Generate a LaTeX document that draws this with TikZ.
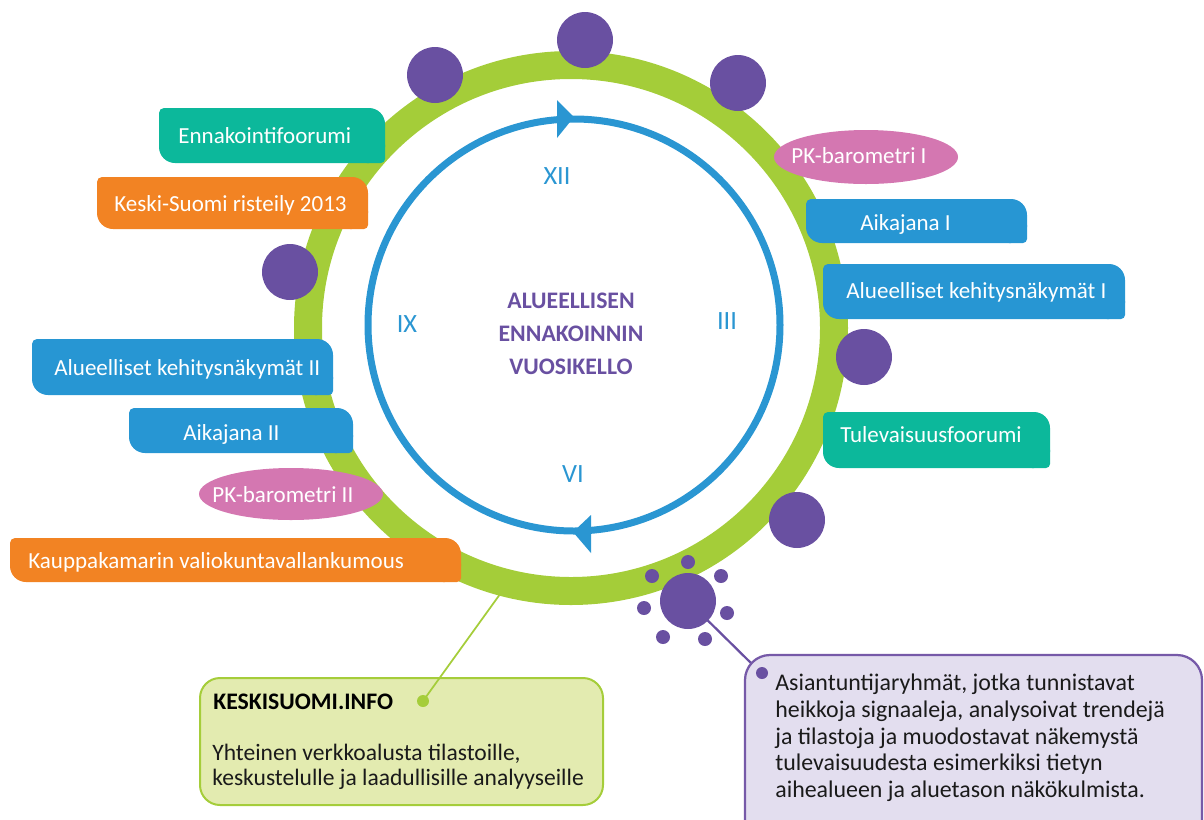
\documentclass[tikz,border=0pt]{standalone}
\usepackage{fontspec}
\setmainfont{Carlito}
\usetikzlibrary{calc}

\definecolor{ringgreen}{HTML}{A4CD39}
\definecolor{clockblue}{HTML}{2A96D2}
\definecolor{dotviolet}{HTML}{6950A1}
\definecolor{tabteal}{HTML}{0CB89B}
\definecolor{taborange}{HTML}{F28323}
\definecolor{tabpink}{HTML}{D477B1}
\definecolor{tabblue}{HTML}{2796D3}
\definecolor{gboxfill}{HTML}{E3EBB0}
\definecolor{gboxline}{HTML}{A5CD3A}
\definecolor{pboxfill}{HTML}{E3DEEF}
\definecolor{pboxline}{HTML}{7659A8}
\definecolor{textdark}{HTML}{1A1A1A}

% leaf-shaped label: large radius top right / bottom left, small radius elsewhere
\newcommand\leaftab[5]{%
  \fill[#5, rounded corners=0.32cm] (#1,#2) rectangle (#3,#4);
  \fill[#5, rounded corners=0.1cm] (#1,#2) rectangle (#1+22,#2+22);
  \fill[#5, rounded corners=0.08cm] (#3-22,#4-22) rectangle (#3,#4);
}

\begin{document}
\begin{tikzpicture}[x=0.02cm, y=-0.02cm,
  tabtext/.style={text=white, font=\fontsize{13.1}{15}\selectfont, inner sep=0pt, anchor=base west},
  numeral/.style={text=clockblue, font=\fontsize{15}{18}\selectfont, inner sep=0pt, anchor=base},
  titletext/.style={text=dotviolet, font=\bfseries\fontsize{13.5}{18.7}\selectfont, inner sep=0pt, anchor=base},
  bodytext/.style={text=textdark, font=\fontsize{13.6}{15.1}\selectfont, align=left, inner sep=0pt, anchor=north west},
  bigdot/.style={circle, fill=dotviolet, minimum size=1.12cm, inner sep=0pt},
  smalldot/.style={circle, fill=dotviolet, minimum size=0.28cm, inner sep=0pt},
  pin/.style={circle, minimum size=0.24cm, inner sep=0pt}]
\clip (0,0) rectangle (1204,819);
\useasboundingbox (0,0) rectangle (1204,819);

% web platform callout
\draw[gboxline, fill=gboxfill, line width=0.04cm, rounded corners=0.4cm] (200,678) rectangle (603,805);
\node[pin, fill=gboxline] (gdot) at (423,701) {};
\coordinate (ringin) at (503,590);
\draw[gboxline, line width=0.035cm] (gdot.center) -- (ringin);
\node[text=black, font=\bfseries\fontsize{13.5}{16}\selectfont, inner sep=0pt, anchor=base west] (gtitle) at (213,709) {KESKISUOMI.INFO};
\node[bodytext, font=\fontsize{13.4}{14.2}\selectfont] (gbody) at (212,744) {Yhteinen verkkoalusta tilastoille,\\keskustelulle ja laadullisille analyyseille};

% outer green ring
\draw[ringgreen, line width=0.56cm] (571,328) circle[radius=263];

% inner clock circle with direction arrows
\draw[clockblue, line width=0.14cm] (574,325) circle[radius=206];
\fill[clockblue] (557,100) -- (574,117) -- (557,138) -- cycle;
\fill[clockblue] (591,515) -- (573,532) -- (591,553) -- cycle;

% expert group callout and its connector
\coordinate (bigc) at (688,601);
\coordinate (pcorner) at (754,666);
\draw[dotviolet, line width=0.045cm] (bigc) -- (pcorner);
\draw[pboxline, fill=pboxfill, line width=0.045cm, rounded corners=0.5cm] (745,655) rectangle (1202,860);
\node[pin, fill=dotviolet] (pdot) at (762,673) {};
\node[bodytext] (pbody) at (775,674) {Asiantuntijaryhmät, jotka tunnistavat\\heikkoja signaaleja, analysoivat trendejä\\ja tilastoja ja muodostavat näkemystä\\tulevaisuudesta esimerkiksi tietyn\\aihealueen ja aluetason näkökulmista.};

% event dots on the ring
\node[bigdot] (d1) at (585,40) {};
\node[bigdot] (d2) at (435,75) {};
\node[bigdot] (d3) at (738,83) {};
\node[bigdot] (d4) at (290,272) {};
\node[bigdot] (d5) at (864,357) {};
\node[bigdot] (d6) at (797,520) {};
\node[bigdot] (bigdot) at (bigc) {};
\node[smalldot] (s1) at (688,562) {};
\node[smalldot] (s2) at (652,576) {};
\node[smalldot] (s3) at (721,576) {};
\node[smalldot] (s4) at (644,608) {};
\node[smalldot] (s5) at (727,613) {};
\node[smalldot] (s6) at (663,637) {};
\node[smalldot] (s7) at (705,639) {};

% labels around the clock
\leaftab{159}{108}{385}{163}{tabteal}
\node[tabtext] (t1) at (178,143) {Ennakointifoorumi};
\leaftab{97}{177}{368}{229}{taborange}
\node[tabtext] (t2) at (114,211) {Keski-Suomi risteily 2013};
\fill[tabpink] (866,157) ellipse[x radius=92, y radius=27];
\node[tabtext] (t3) at (791,163) {PK-barometri I};
\leaftab{806}{199}{1027}{243}{tabblue}
\node[tabtext] (t4) at (860,230) {Aikajana I};
\leaftab{823}{264}{1125}{319}{tabblue}
\node[tabtext] (t5) at (846,298) {Alueelliset kehitysnäkymät I};
\leaftab{823}{412}{1050}{468}{tabteal}
\node[tabtext] (t6) at (840,442) {Tulevaisuusfoorumi};
\leaftab{32}{339}{333}{395}{tabblue}
\node[tabtext] (t7) at (54,375) {Alueelliset kehitysnäkymät II};
\leaftab{129}{408}{353}{453}{tabblue}
\node[tabtext] (t8) at (183,440) {Aikajana II};
\fill[tabpink] (291,494) ellipse[x radius=92, y radius=26];
\node[tabtext] (t9) at (212,502) {PK-barometri II};
\leaftab{10}{538}{461}{582}{taborange}
\node[tabtext] (t10) at (28,568) {Kauppakamarin valiokuntavallankumous};

% clock face
\node[numeral] (n12) at (557,184) {XII};
\node[numeral] (n3) at (727,329) {III};
\node[numeral] (n6) at (573,482) {VI};
\node[numeral] (n9) at (407,332) {IX};
\node[titletext] (h1) at (571,308) {ALUEELLISEN};
\node[titletext] (h2) at (571,341) {ENNAKOINNIN};
\node[titletext] (h3) at (571,374) {VUOSIKELLO};
\end{tikzpicture}
\end{document}
